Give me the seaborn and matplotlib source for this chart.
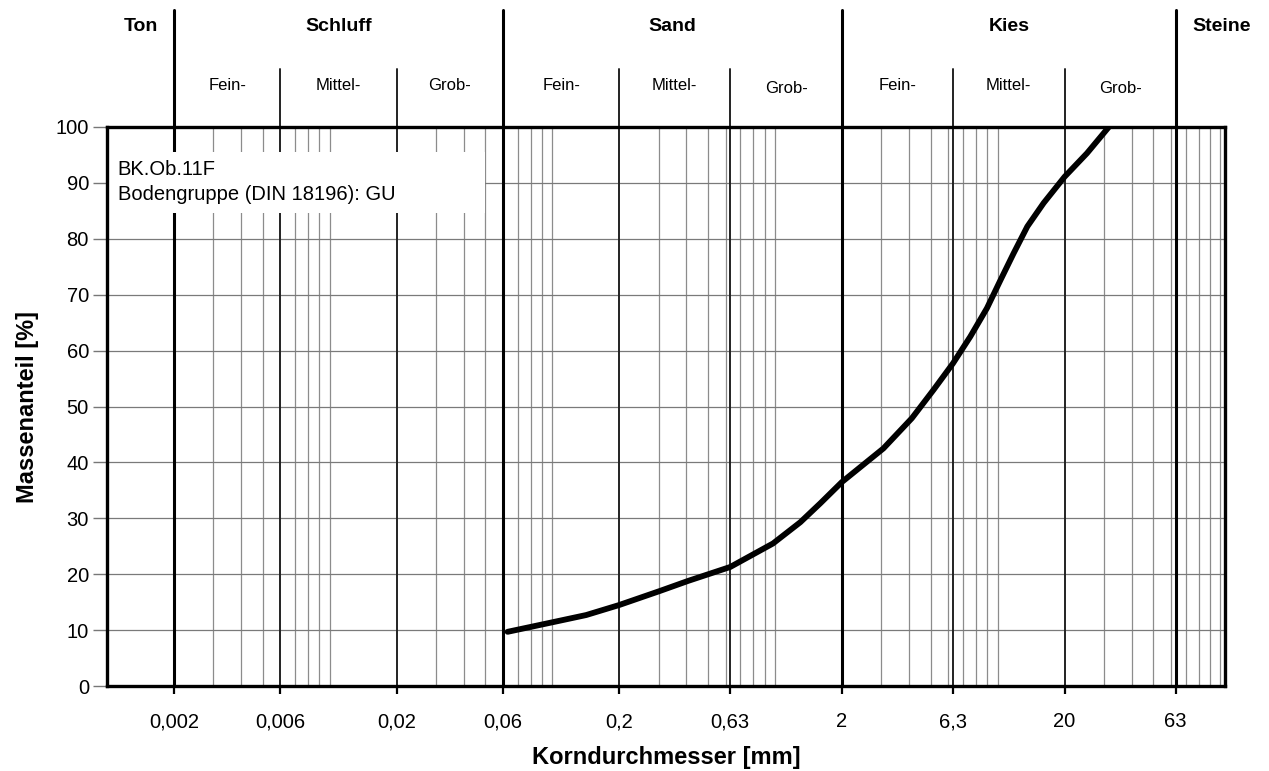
import matplotlib
matplotlib.use("Agg")
import matplotlib.pyplot as plt
import matplotlib.transforms as mtransforms
from matplotlib.ticker import FixedLocator, LogLocator, NullFormatter, FixedFormatter
from matplotlib.patches import Rectangle
import numpy as np
import pandas as pd
import seaborn as sns

# Sieve analysis (grain size distribution): passing fraction per grain diameter
korn_mm = [0.063, 0.1, 0.142, 0.2, 0.304, 0.407, 0.63, 0.98, 1.3, 1.6, 2.0,
           3.07, 4.12, 5.16, 6.3, 7.54, 8.96, 10.3, 11.8, 13.6, 16.1, 20.0,
           25.2, 31.6]
massenanteil = [9.7, 11.4, 12.7, 14.5, 17.0, 18.8, 21.3, 25.5, 29.3, 32.7, 36.5,
                42.5, 47.9, 53.0, 57.7, 62.5, 67.6, 72.6, 77.4, 82.2, 86.4, 91.1,
                95.3, 100.0]

# Classification boundaries (DIN 4022)
haupt_grenzen = [0.002, 0.06, 2.0, 63.0]
neben_grenzen = [0.006, 0.02, 0.2, 0.63, 6.3, 20.0]
tick_werte = [0.002, 0.006, 0.02, 0.06, 0.2, 0.63, 2.0, 6.3, 20.0, 63.0]
tick_texte = ["0,002", "0,006", "0,02", "0,06", "0,2", "0,63", "2", "6,3", "20", "63"]

haupt_namen = ["Ton", "Schluff", "Sand", "Kies", "Steine"]
neben_namen = ["Fein-", "Mittel-", "Grob-"]

x_min, x_max = 0.001, 105.0

sns.set_style("white")
plt.rcParams["font.family"] = ["Liberation Sans", "DejaVu Sans"]
plt.rcParams["text.color"] = "black"
plt.rcParams["axes.labelcolor"] = "black"
plt.rcParams["xtick.labelcolor"] = "black"
plt.rcParams["ytick.labelcolor"] = "black"

fig = plt.figure(figsize=(12.69, 7.71), dpi=100)
ax = fig.add_axes([0.0843, 0.1102, 0.9653 - 0.0843, 0.8353 - 0.1102])

df = pd.DataFrame({"d": korn_mm, "p": massenanteil})
sns.lineplot(data=df, x="d", y="p", ax=ax, color="black", linewidth=4.2,
             solid_capstyle="round", solid_joinstyle="round", zorder=6)

ax.set_xscale("log")
ax.set_xlim(x_min, x_max)
ax.set_ylim(0, 100)

# ticks
ax.xaxis.set_major_locator(FixedLocator(tick_werte))
ax.xaxis.set_major_formatter(FixedFormatter(tick_texte))
ax.xaxis.set_minor_locator(LogLocator(base=10, subs=np.arange(1, 10)))
ax.xaxis.set_minor_formatter(NullFormatter())
ax.set_yticks(np.arange(0, 101, 10))
ax.tick_params(axis="x", which="major", direction="out", length=6, width=1.6,
               color="black", labelsize=14.5, pad=23.5, bottom=True)
ax.tick_params(axis="x", which="minor", length=0)
ax.tick_params(axis="y", which="major", direction="out", length=10, width=1,
               color="#777777", labelsize=14.5, pad=3, left=True)
for lbl in ax.get_xticklabels():
    lbl.set_verticalalignment("baseline")

# grid
ax.grid(False)
ax.grid(True, which="minor", axis="x", color="#8c8c8c", linewidth=0.9, zorder=1)
ax.grid(True, which="major", axis="y", color="#7a7a7a", linewidth=0.9, zorder=1)
ax.set_axisbelow(True)

for s in ax.spines.values():
    s.set_linewidth(2.4)
    s.set_color("black")
    s.set_zorder(7)

# boundary lines inside plot and extended into header
trans = mtransforms.blended_transform_factory(ax.transData, ax.transAxes)
for g in haupt_grenzen:
    ax.axvline(g, color="black", linewidth=2.2, zorder=3)
    ax.plot([g, g], [1.0, 1.209], transform=trans, color="black",
            linewidth=2.2, clip_on=False, zorder=3)
for g in neben_grenzen:
    ax.axvline(g, color="#222222", linewidth=1.4, zorder=3)
    ax.plot([g, g], [1.0, 1.104], transform=trans, color="#222222",
            linewidth=1.4, clip_on=False, zorder=3)

# header labels
grenzen_alle = [x_min] + haupt_grenzen + [x_max]
for i, name in enumerate(haupt_namen):
    a, b = grenzen_alle[i], grenzen_alle[i + 1]
    xc = np.sqrt(a * b)
    if name == "Steine":
        xc = 101.0
    ax.text(xc, 1.180, name, transform=trans, ha="center", va="center",
            fontsize=14, fontweight="bold")

for i in range(3):
    lo, hi = haupt_grenzen[i], haupt_grenzen[i + 1]
    teil = [lo] + [g for g in neben_grenzen if lo < g < hi] + [hi]
    for j, name in enumerate(neben_namen):
        xc = np.sqrt(teil[j] * teil[j + 1])
        yc = 1.068 if (name == "Grob-" and i > 0) else 1.075
        ax.text(xc, yc, name, transform=trans, ha="center", va="center",
                fontsize=12)

# sample information box
ax.add_patch(Rectangle((0.0, 0.847), 0.338, 0.108, transform=ax.transAxes,
                       facecolor="white", edgecolor="none", zorder=4))
ax.text(0.0095, 0.901, "BK.Ob.11F\nBodengruppe (DIN 18196): GU",
        transform=ax.transAxes, ha="left", va="center", fontsize=14.5,
        linespacing=1.42, zorder=5)

ax.set_xlabel("Korndurchmesser [mm]", fontsize=17, fontweight="bold", labelpad=11)
ax.set_ylabel("Massenanteil [%]", fontsize=17, fontweight="bold", labelpad=12)

fig.savefig("out.png", dpi=100, facecolor="white")
